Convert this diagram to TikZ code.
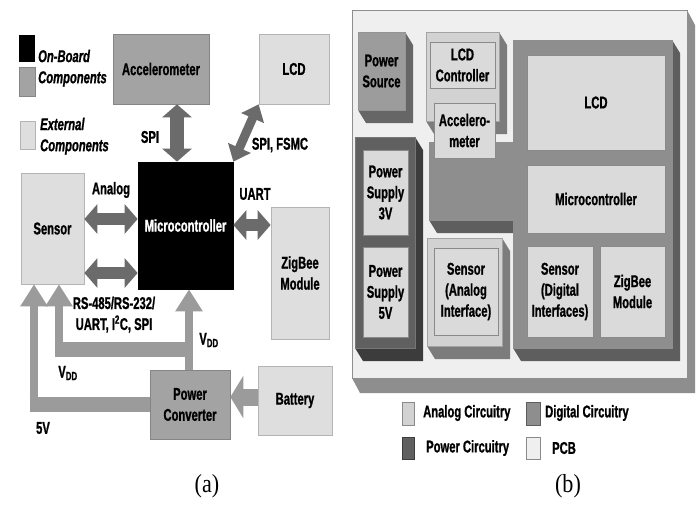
\documentclass[tikz,border=0pt]{standalone}
\usepackage{fontspec}
\setmainfont{Liberation Serif}
\newfontfamily\lab[FakeStretch=0.66,FakeBold=1]{Liberation Sans}
\newfontfamily\capf[FakeStretch=0.85]{Liberation Serif}
\usetikzlibrary{arrows.meta}
\definecolor{onb}{HTML}{A3A3A3}
\definecolor{onbd}{HTML}{858585}
\definecolor{ext}{HTML}{DEDEDE}
\definecolor{extd}{HTML}{B4B4B4}
\definecolor{dblc}{HTML}{6B6B6B}
\definecolor{pwc}{HTML}{9B9B9B}
\definecolor{pcbf}{HTML}{EFEFEF}
\definecolor{pcbs}{HTML}{8E8E8E}
\definecolor{anaf}{HTML}{D2D2D2}
\definecolor{anas}{HTML}{7C7C7C}
\definecolor{digf}{HTML}{8E8E8E}
\definecolor{digs}{HTML}{5E5E5E}
\definecolor{powf}{HTML}{606060}
\definecolor{pows}{HTML}{3C3C3C}
\definecolor{srcf}{HTML}{9C9C9C}
\definecolor{srcs}{HTML}{666666}
\definecolor{inf}{HTML}{DADADA}
\definecolor{ind}{HTML}{8A8A8A}
\newcommand\blockthree[6]{%
  \fill[#6] (#3,#2) -- (#3+8,#2+13) -- (#3+8,#4+13) -- (#1+8,#4+13) -- (#1,#4) -- cycle;
  \filldraw[fill=#5,draw=#6!70!white,line width=0.6pt] (#1,#2) rectangle (#3,#4);}
\begin{document}
\begin{tikzpicture}[x=1pt,y=-1pt,
  lbl/.style={font=\lab\bfseries\fontsize{17}{21}\selectfont, align=center, inner sep=0pt},
  ilbl/.style={font=\lab\bfseries\itshape\fontsize{17}{21}\selectfont, inner sep=0pt, anchor=west},
  abox/.style={lbl, draw, line width=0.7pt, minimum width=#1},
  onbox/.style={abox=#1, fill=onb, draw=onbd},
  extbox/.style={abox=#1, fill=ext, draw=extd},
  ibox/.style={lbl, fill=inf, draw=ind, line width=0.7pt, minimum width=#1},
  dbl/.style={draw=dblc, line width=12pt, {Triangle[length=13pt,width=29pt]}-{Triangle[length=13pt,width=29pt]}},
  pwv/.style={draw=pwc, line width=8.5pt, -{Triangle[length=22pt,width=26pt]}},
  pwh/.style={draw=pwc, line width=15pt},
  figcap/.style={font=\capf\fontsize{26}{28}\selectfont, inner sep=0pt}]
\useasboundingbox (0,0) rectangle (697,504);
\fill[white] (0,0) rectangle (697,504);

% ---------- panel (a) legend
\fill[black] (19,35) rectangle (35,62);
\filldraw[fill=onb,draw=onbd] (19,67) rectangle (35,96);
\filldraw[fill=ext,draw=extd] (20,121) rectangle (35,149);
\node[ilbl] (lg1) at (38,56) {On-Board};
\node[ilbl] (lg2) at (38,79) {Components};
\node[ilbl] (lg3) at (40,124) {External};
\node[ilbl] (lg4) at (40,147) {Components};

% ---------- panel (a) boxes
\node[onbox=96pt, minimum height=70pt] (acc) at (161,69) {Accelerometer};
\node[extbox=70pt, minimum height=70pt] (lcd) at (294,69) {LCD};
\node[abox=95pt, minimum height=127pt, fill=black, draw=black, text=white] (micro) at (185.5,225.5) {Microcontroller};
\node[extbox=63pt, minimum height=111pt] (sensor) at (52.5,228.5) {Sensor};
\node[extbox=58pt, minimum height=132pt] (zig) at (300,273) {ZigBee\\Module};
\node[onbox=80pt, minimum height=69pt] (conv) at (190,404.5) {Power\\Converter};
\node[extbox=74pt, minimum height=69pt] (batt) at (295,400.5) {Battery};

% ---------- panel (a) connectors
\draw[dbl, line width=14pt] (acc.south -| 177,0) -- (micro.north -| 177,0);
\draw[dbl, line width=9pt, {Triangle[length=15pt,width=24pt]}-{Triangle[length=15pt,width=24pt]}] (micro.north east) -- (lcd.south west);
\draw[dbl] (sensor.east |- 0,219) -- (micro.west |- 0,219);
\draw[dbl] (sensor.east |- 0,273) -- (micro.west |- 0,273);
\draw[dbl] (micro.east |- 0,225) -- (zig.west |- 0,225);

\draw[pwh] (29.7,404.5) -- (conv.west |- 0,404.5);
\draw[pwv] (34,412) -- (sensor.south -| 34,0);
\draw[pwh] (54.7,349.5) -- (193.3,349.5);
\draw[pwv] (59,357) -- (sensor.south -| 59,0);
\draw[pwv] (conv.north -| 189,0) -- (micro.south -| 189,0);
\draw[draw=pwc, line width=17pt, -{Triangle[length=13pt,width=42pt]}] (batt.west |- 0,397) -- (conv.east |- 0,397);

% ---------- panel (a) labels
\node[lbl] (l1) at (150,137) {SPI};
\node[lbl] (l2) at (280,145) {SPI, FSMC};
\node[lbl] (l3) at (111,190) {Analog};
\node[lbl] (l4) at (255,194) {UART};
\node[lbl] (l5) at (114,303) {RS-485/RS-232/};
\node[lbl] (l6) at (114,324) {UART, I\textsuperscript{2}C, SPI};
\node[lbl] (l7) at (209,340) {V\textsubscript{DD}};
\node[lbl] (l8) at (68,373) {V\textsubscript{DD}};
\node[lbl] (l9) at (43,428) {5V};
\node[figcap] (capa) at (207,486) {(a)};

% ---------- panel (b) board
\fill[pcbs] (687,10) -- (695,25) -- (695,393) -- (360,393) -- (352,378) -- cycle;
\filldraw[fill=pcbf,draw=pcbs,line width=0.6pt] (352,10) rectangle (687,378);

% power source
\blockthree{358}{32}{405}{110}{srcf}{srcs}
\node[lbl] (psrc) at (381.5,71) {Power\\Source};
% LCD controller group (analog)
\blockthree{426}{32}{499}{121}{anaf}{anas}
\node[ibox=65pt, minimum height=46pt] (lcdc) at (462.5,65) {LCD\\Controller};
% power circuitry
\blockthree{355}{137}{415}{348}{powf}{pows}
\node[ibox=45pt, minimum height=85pt] (ps3) at (385.5,192.5) {Power\\Supply\\3V};
\node[ibox=45pt, minimum height=90pt] (ps5) at (385.5,292) {Power\\Supply\\5V};
% sensor analog group
\blockthree{427}{238}{502}{346}{anaf}{anas}
\node[ibox=64pt, minimum height=87pt] (sena) at (466,291.5) {Sensor\\(Analog\\Interface)};
% digital L-shaped region
\fill[digs] (672,40) -- (680,53) -- (680,361) -- (521,361) -- (513,348) -- cycle;
\fill[digs] (429,220) -- (437,233) -- (513,233) -- (513,220) -- cycle;
\filldraw[fill=digf,draw=digs!70!white,line width=0.6pt] (513,40) -- (672,40) -- (672,348) -- (513,348) -- (513,220) -- (429,220) -- (429,142) -- (513,142) -- cycle;
\node[ibox=61pt, minimum height=55pt] (accb) at (464.5,130.5) {Accelero-\\meter};
\node[ibox=138pt, minimum height=95pt] (lcdb) at (596,102.5) {LCD};
\node[ibox=138pt, minimum height=68pt] (microb) at (596,199) {Microcontroller};
\node[ibox=66pt, minimum height=91pt] (send) at (560,291.5) {Sensor\\(Digital\\Interfaces)};
\node[ibox=65pt, minimum height=91pt] (zigb) at (632.5,291.5) {ZigBee\\Module};

% ---------- panel (b) legend
\filldraw[fill=anaf,draw=ind] (402,402) rectangle (414,425);
\filldraw[fill=digf,draw=digs] (526,402) rectangle (540,425);
\filldraw[fill=powf,draw=pows] (402,437) rectangle (414,459);
\filldraw[fill=pcbf,draw=ind] (526,437) rectangle (540,459);
\node[lbl, anchor=west] (lb1) at (423,413) {Analog Circuitry};
\node[lbl, anchor=west] (lb2) at (545,413) {Digital Circuitry};
\node[lbl, anchor=west] (lb3) at (426,448) {Power Circuitry};
\node[lbl, anchor=west] (lb4) at (552,448) {PCB};
\node[figcap] (capb) at (568,486) {(b)};
\end{tikzpicture}
\end{document}
